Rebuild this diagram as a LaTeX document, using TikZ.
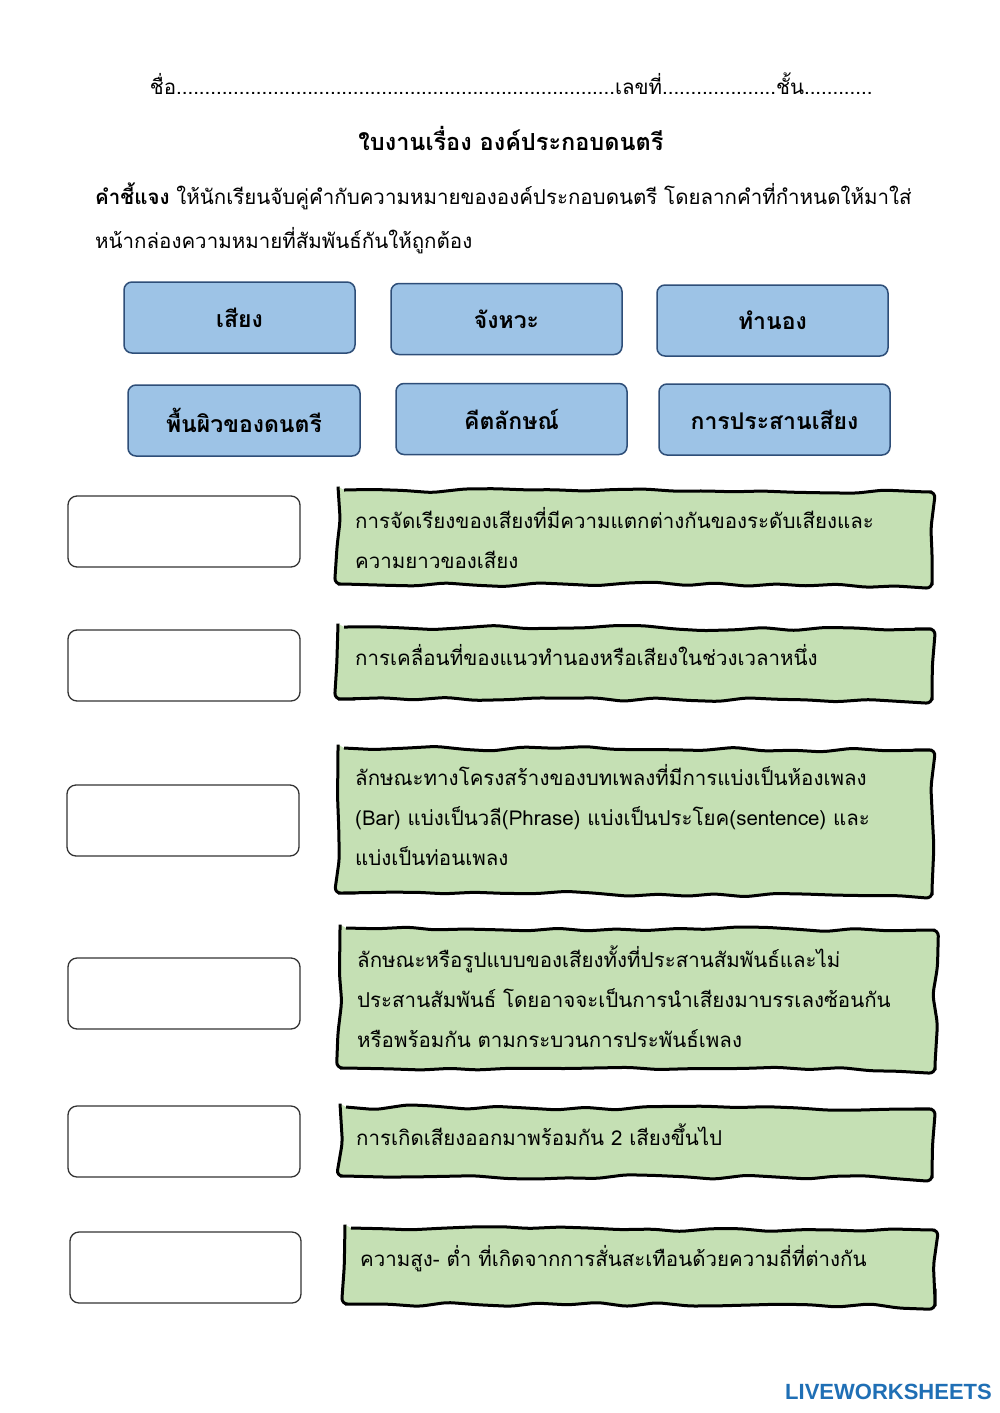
\documentclass[tikz,border=0pt]{standalone}
\usepackage{fontspec}
\setmainfont[Script=Thai]{Loma}
\newfontfamily\logofont{Liberation Sans}
\usetikzlibrary{decorations.pathmorphing}
\definecolor{bluefill}{HTML}{9DC3E6}
\definecolor{blueedge}{HTML}{2E4E78}
\definecolor{greenfill}{HTML}{C5E0B4}
\definecolor{logoblue}{HTML}{1F6FB5}
\tikzset{
 word/.style={draw=blueedge,fill=bluefill,line width=1.5pt,rounded corners=8pt,font=\fontsize{23}{26}\selectfont\bfseries},
 blank/.style={draw=black!80,line width=1.3pt,rounded corners=9pt},
 meaning/.style={draw=black,fill=greenfill,line width=3pt,decorate,decoration={random steps,segment length=30pt,amplitude=2.5pt},rounded corners=6pt},
 mtext/.style={anchor=north west,align=left,font=\fontsize{20.5}{40}\selectfont,text width=575pt,inner sep=0pt}
}
\begin{document}
\begin{tikzpicture}[x=1pt,y=-1pt]
\useasboundingbox (0,0) rectangle (1000,1413);
\fill[white] (0,0) rectangle (1000,1413);
\node[font=\fontsize{20.5}{22}\selectfont] (name) at (511,84) {ชื่อ.............................................................................เลขที่....................ชั้น............};
\node[font=\fontsize{23.5}{26}\selectfont\bfseries] (title) at (511,138) {ใบงานเรื่อง องค์ประกอบดนตรี};
\node[anchor=north west,align=left,text width=850pt,inner sep=0pt,font=\fontsize{20.5}{44}\selectfont] (instr) at (95,183) {\textbf{คำชี้แจง} ให้นักเรียนจับคู่คำกับความหมายขององค์ประกอบดนตรี โดยลากคำที่กำหนดให้มาใส่\\หน้ากล่องความหมายที่สัมพันธ์กันให้ถูกต้อง};
% word boxes
\node[word,minimum width=231pt,minimum height=71pt] (w1) at (239.5,317.5) {เสียง};
\node[word,minimum width=231pt,minimum height=71pt] (w2) at (506.5,319) {จังหวะ};
\node[word,minimum width=231pt,minimum height=71pt] (w3) at (772.5,320.5) {ทำนอง};
\node[word,minimum width=232pt,minimum height=71pt] (w4) at (244,420.5) {พื้นผิวของดนตรี};
\node[word,minimum width=231pt,minimum height=71pt] (w5) at (511.5,419) {คีตลักษณ์};
\node[word,minimum width=231pt,minimum height=71pt] (w6) at (774.5,419.5) {การประสานเสียง};
% blanks
\draw[blank] (68,496) rectangle (300,567);
\draw[blank] (68,630) rectangle (300,701);
\draw[blank] (67,785) rectangle (299,856);
\draw[blank] (68,958) rectangle (300,1029);
\draw[blank] (68,1106) rectangle (300,1177);
\draw[blank] (70,1232) rectangle (301,1303);
% meanings
\draw[meaning] (338,490) -- (932,492) -- (932,585) -- (338,584) -- cycle;
\node[mtext] (m1) at (355,507) {การจัดเรียงของเสียงที่มีความแตกต่างกันของระดับเสียงและ\\ความยาวของเสียง};
\draw[meaning] (338,627) -- (932,629) -- (932,700) -- (338,699) -- cycle;
\node[mtext] (m2) at (355,644) {การเคลื่อนที่ของแนวทำนองหรือเสียงในช่วงเวลาหนึ่ง};
\draw[meaning] (338,748) -- (932,750) -- (932,895) -- (338,893) -- cycle;
\node[mtext] (m3) at (355,764) {ลักษณะทางโครงสร้างของบทเพลงที่มีการแบ่งเป็นห้องเพลง\\(Bar) แบ่งเป็นวลี(Phrase) แบ่งเป็นประโยค(sentence) และ\\แบ่งเป็นท่อนเพลง};
\draw[meaning] (340,928) -- (935,930) -- (935,1070) -- (340,1068) -- cycle;
\node[mtext] (m4) at (357,946) {ลักษณะหรือรูปแบบของเสียงทั้งที่ประสานสัมพันธ์และไม่\\ประสานสัมพันธ์ โดยอาจจะเป็นการนำเสียงมาบรรเลงซ้อนกัน\\หรือพร้อมกัน ตามกระบวนการประพันธ์เพลง};
\draw[meaning] (340,1107) -- (932,1109) -- (932,1178) -- (340,1176) -- cycle;
\node[mtext] (m5) at (356,1124) {การเกิดเสียงออกมาพร้อมกัน 2 เสียงขึ้นไป};
\draw[meaning] (345,1228) -- (935,1230) -- (935,1306) -- (345,1304) -- cycle;
\node[mtext] (m6) at (360,1245) {ความสูง- ต่ำ ที่เกิดจากการสั่นสะเทือนด้วยความถี่ที่ต่างกัน};
% logo
\node[anchor=east,font=\logofont\bfseries\fontsize{22}{24}\selectfont,text=logoblue,inner sep=0pt] (logo) at (992,1392) {LIVEWORKSHEETS};
\end{tikzpicture}
\end{document}
